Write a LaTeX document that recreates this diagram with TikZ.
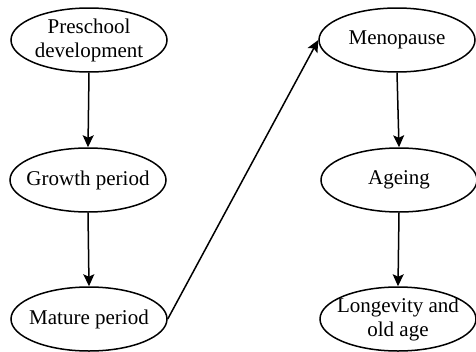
\documentclass[tikz,border=0pt]{standalone}
\usepackage{fontspec}
\setmainfont{Liberation Serif}
\usetikzlibrary{shapes.geometric,arrows.meta}
\begin{document}
\begin{tikzpicture}[x=1pt,y=-1pt,
  stage/.style={draw, ellipse, line width=1.5pt, minimum width=156pt, minimum height=64pt,
    inner sep=-12pt, align=center, font=\fontsize{21}{24}\selectfont},
  link/.style={line width=1.5pt, -{Stealth[length=12pt,width=11pt,inset=2.5pt]}}]
\useasboundingbox (0,0) rectangle (476,351);
\node[stage] (pre) at (89,40) {Preschool\\development};
\node[stage] (gro) at (88,180) {Growth period};
\node[stage] (mat) at (89,319) {Mature period};
\node[stage] (men) at (397,40) {Menopause};
\node[stage] (age) at (399,180) {Ageing};
\node[stage] (lon) at (398,319) {Longevity and\\old age};
\draw[link] (pre.south) -- (gro.north);
\draw[link] (gro.south) -- (mat.north);
\draw[link] (men.south) -- (age.north);
\draw[link] (age.south) -- (lon.north);
\draw[link] (mat.east) -- (men.west);
\end{tikzpicture}
\end{document}
